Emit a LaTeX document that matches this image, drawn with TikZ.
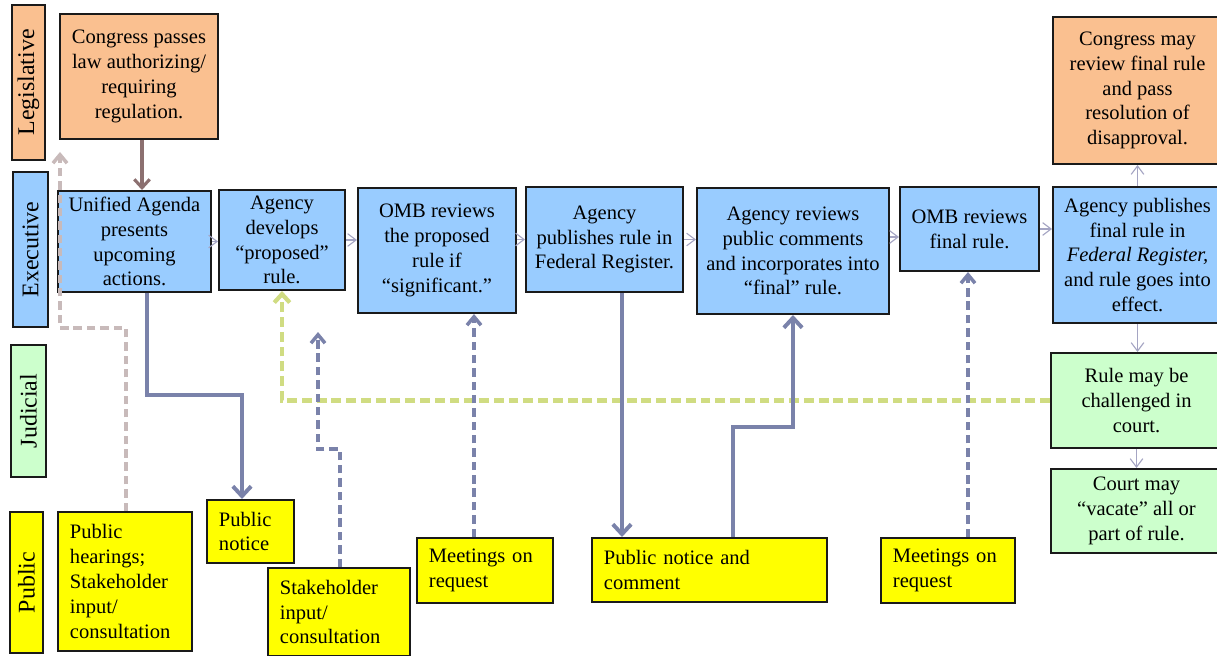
\documentclass[tikz,border=0pt]{standalone}
\usepackage{fontspec}
\setmainfont{Liberation Serif}
\usetikzlibrary{arrows.meta}
\definecolor{legfill}{RGB}{250,192,144}
\definecolor{exefill}{RGB}{153,204,255}
\definecolor{judfill}{RGB}{204,255,204}
\definecolor{pubfill}{RGB}{255,255,0}
\definecolor{edgecol}{RGB}{26,26,26}
\definecolor{flowcol}{RGB}{165,165,195}
\definecolor{linkcol}{RGB}{122,130,170}
\definecolor{lawcol}{RGB}{140,112,112}
\definecolor{hearcol}{RGB}{200,186,186}
\definecolor{courtcol}{RGB}{208,220,130}
\begin{document}
\begin{tikzpicture}[x=0.025cm,y=-0.025cm,
  every node/.style={font=\fontsize{14.6}{17.7}\selectfont, inner ysep=1pt},
  box/.style={draw=edgecol, line width=1.4pt, align=center, inner xsep=3pt},
  lanebox/.style={box, rotate=90, font=\fontsize{17}{20}\selectfont},
  legbox/.style={box, fill=legfill},
  exebox/.style={box, fill=exefill},
  judbox/.style={box, fill=judfill},
  pubbox/.style={box, fill=pubfill, align=left, inner xsep=0.3cm},
  flowarr/.style={draw=flowcol, line width=0.8pt, -{Straight Barb[length=6pt,width=9pt]}},
  pubarr/.style={draw=linkcol, line width=2.8pt, -{Straight Barb[length=7pt,width=13pt]}},
  askarr/.style={draw=linkcol, line width=2.5pt, dash pattern=on 6pt off 3.5pt, -{Straight Barb[length=6pt,width=10pt]}},
  lawarr/.style={draw=lawcol, line width=2.2pt, -{Straight Barb[length=6pt,width=11pt]}},
  hearingarr/.style={draw=hearcol, line width=2.5pt, dash pattern=on 6pt off 3.5pt, -{Straight Barb[length=6pt,width=10pt]}},
  courtarr/.style={draw=courtcol, line width=3pt, dash pattern=on 7pt off 3.5pt, -{Straight Barb[length=6pt,width=11pt]}}]
\useasboundingbox (0,0) rectangle (1217,656);
% lanes
\node[lanebox, fill=legfill, minimum width=3.875cm, minimum height=0.825cm] (legis) at (28.5,82.5) {Legislative};
\node[lanebox, fill=exefill, minimum width=3.875cm, minimum height=0.875cm] (exec) at (30.5,249.5) {Executive};
\node[lanebox, fill=judfill, minimum width=3.3cm, minimum height=0.875cm] (judic) at (28.5,411) {Judicial};
\node[lanebox, fill=pubfill, minimum width=3.525cm, minimum height=0.825cm] (publ) at (26.5,582.5) {Public};
% boxes
\node[legbox, minimum width=3.95cm, minimum height=3.125cm] (congress) at (139,76.5) {Congress passes\\law authorizing/\\requiring\\regulation.};
\node[exebox, minimum width=3.825cm, minimum height=2.525cm] (agenda) at (134.5,241.5) {Unified Agenda\\presents\\upcoming\\actions.};
\node[exebox, minimum width=3.15cm, minimum height=2.5cm] (develop) at (282,240) {Agency\\develops\\“proposed”\\rule.};
\node[exebox, minimum width=3.95cm, minimum height=3.125cm] (ombprop) at (437,250.5) {OMB reviews\\the proposed\\rule if\\“significant.”};
\node[exebox, minimum width=3.925cm, minimum height=2.625cm] (publish) at (604.5,239.5) {Agency\\publishes rule in\\Federal Register.};
\node[exebox, minimum width=4.8cm, minimum height=3.15cm] (reviews) at (793,251) {Agency reviews\\public comments\\and incorporates into\\“final” rule.};
\node[exebox, minimum width=3.475cm, minimum height=2.1cm] (ombfinal) at (969.5,229) {OMB reviews\\final rule.};
\node[exebox, minimum width=4.225cm, minimum height=3.4cm] (final) at (1137.5,255) {Agency publishes\\final rule in\\\textit{Federal Register,}\\and rule goes into\\effect.};
\node[legbox, minimum width=4.225cm, minimum height=3.675cm] (review) at (1137.5,90.5) {Congress may\\review final rule\\and pass\\resolution of\\disapproval.};
\node[judbox, minimum width=4.275cm, minimum height=2.375cm] (challenge) at (1136.5,400.5) {Rule may be\\challenged in\\court.};
\node[judbox, minimum width=4.275cm, minimum height=2.1cm] (vacate) at (1136.5,511) {Court may\\“vacate” all or\\part of rule.};
\node[pubbox, text width=2.75cm, minimum height=3.475cm] (hearings) at (125,581.5) {Public\\hearings;\\Stakeholder\\input/\\consultation};
\node[pubbox, text width=1.575cm, minimum height=1.575cm] (notice) at (250.5,531.5) {Public\\notice};
\node[pubbox, text width=2.95cm, minimum height=2.2cm] (stake) at (339,612) {Stakeholder\\input/\\consultation};
\node[pubbox, text width=2.8cm, minimum height=1.625cm] (meet1) at (485,570.5) {Meetings on\\request};
\node[pubbox, text width=5.275cm, minimum height=1.6cm] (comment) at (709.5,570) {Public notice and\\comment};
\node[pubbox, text width=2.75cm, minimum height=1.625cm] (meet2) at (948,570.5) {Meetings on\\request};
\coordinate (legisin) at (60,152);
\coordinate (stakein) at (318,332);
% executive steps
\draw[flowarr] (agenda.east) -- (agenda.east -| develop.west);
\draw[flowarr] (develop.east) -- (develop.east -| ombprop.west);
\draw[flowarr] (publish.west -| ombprop.east) -- (publish.west);
\draw[flowarr] (publish.east) -- (publish.east -| reviews.west);
\draw[flowarr] (reviews.east |- 0,237) -- (ombfinal.west |- 0,237);
\draw[flowarr] (ombfinal.east) -- (ombfinal.east -| final.west);
\draw[flowarr] (final.north) -- (review.south);
\draw[flowarr] (final.south) -- (final.south |- challenge.north);
\draw[flowarr] (challenge.south) -- (vacate.north);
\draw[lawarr] (142,0 |- congress.south) -- (142,0 |- agenda.north);
% public links
\draw[courtarr] (challenge.west) -| (282,0 |- develop.south);
\draw[hearingarr] (126,0 |- hearings.north) |- (60,328) -- (legisin);
\draw[askarr] (340,0 |- stake.north) |- (318,449) -- (stakein);
\draw[askarr] (474,0 |- meet1.north) -- (474,0 |- ombprop.south);
\draw[askarr] (968,0 |- meet2.north) -- (968,0 |- ombfinal.south);
\draw[pubarr] (147,0 |- agenda.south) |- (242,395) -- (242,0 |- notice.north);
\draw[pubarr] (622,0 |- publish.south) -- (622,0 |- comment.north);
\draw[pubarr] (733,0 |- comment.north) |- (793,427) -- (reviews.south);
\end{tikzpicture}
\end{document}
